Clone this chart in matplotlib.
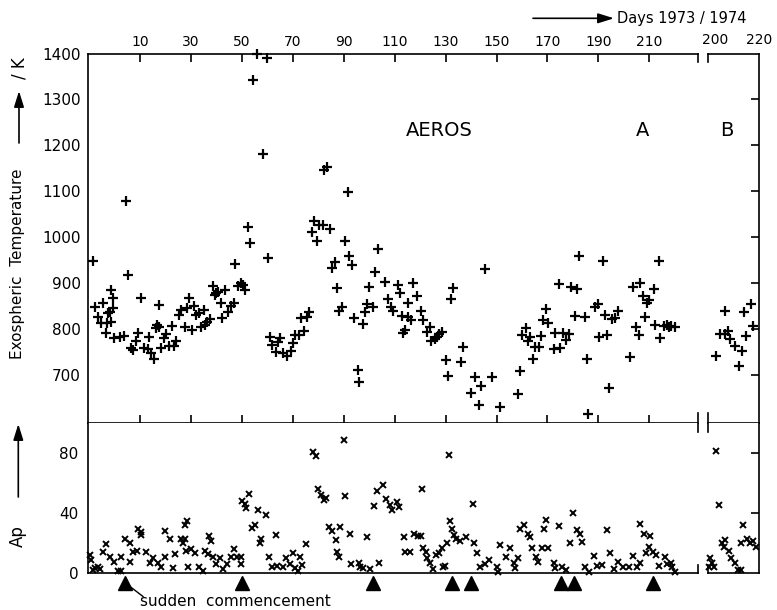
import matplotlib.pyplot as plt
from matplotlib.lines import Line2D
from matplotlib.transforms import ScaledTranslation

plt.rcParams['font.family'] = 'DejaVu Sans'

# exospheric temperature, AEROS A (day, K)
temp_a_day = [-8.5, 4.6, 5.5, -7.8, -4.5, -6.5, -5.2, -3.2, -2.8, -2.6, -1.9, -1.3, -0.6, -0.6, -1.5,
              0.0, 2.0, 3.7, 6.6, 7.3, 9.2, 8.6, 10.3, 11.6, 13.1, 13.5, 14.5, 15.5, 16.4, 16.8,
              17.5, 17.3, 18.4, 19.4, 20.4, 21.3, 22.6, 23.4, 24.3, 25.2, 26.2, 27.6, 28.5, 29.3,
              30.4, 31.2, 32.1, 33.1, 34.1, 35.1, 35.4, 36.4, 37.4, 38.7, 39.3, 40.0, 40.6, 41.7,
              42.3, 43.3, 44.6, 45.6, 46.9, 47.2, 48.5, 49.6, 50.5, 51.1, 52.4, 53.3,
              54.5, 55.9, 59.8, 58.4, 82.4, 83.4,
              91.5, 60.4, 78.5, 77.5, 79.4, 80.3, 82.0, 84.7, 90.6, 86.4, 85.3, 92.1, 93.4, 103.4,
              102.3, 87.3, 89.3, 88.3, 100.1, 106.3, 94.2, 97.4, 98.4, 99.1, 101.4, 95.5, 96.2,
              111.5, 112.2, 107.3, 108.6, 109.5, 112.8, 113.2, 61.1, 62.0, 63.3, 64.3, 65.0, 66.3,
              67.6, 69.3, 70.2, 70.9, 72.5, 73.3, 74.6, 75.5, 76.5,
              145.6, 117.4, 118.7, 115.4, 115.4, 116.5, 120.4, 121.3, 113.9, 122.6, 123.7, 124.3,
              125.7, 126.6, 127.5, 128.5, 133.1, 132.2, 137.0, 130.1, 136.1, 131.1, 141.6, 148.2,
              144.0, 140.1, 143.2, 151.5, 158.4, 159.3, 161.5, 160.2, 162.3, 163.2, 164.3, 165.2,
              166.5, 167.4, 168.2, 169.4, 170.4, 172.4, 173.1,
              182.5, 191.7, 213.7, 174.4, 179.4, 181.7, 203.5, 206.5, 211.7, 207.4, 210.0, 209.1,
              180.7, 184.6, 188.5, 189.7, 192.7, 195.4, 196.6, 197.7, 176.3, 178.3, 177.3, 175.0,
              190.1, 193.4, 185.5, 194.3, 186.1, 204.8, 205.8, 208.4, 212.1, 202.5, 214.3, 215.6,
              217.0, 217.9, 218.6, 220.0]
temp_a_val = [948, 1079, 918, 849, 857, 827, 814, 791, 814, 834, 838, 885, 867, 845, 816,
              780, 783, 785, 758, 754, 792, 774, 867, 758, 756, 783, 747, 735, 802, 809,
              852, 805, 758, 780, 789, 762, 807, 762, 774, 831, 842, 805, 845, 867,
              797, 850, 831, 834, 805, 842, 809, 816, 821, 894, 874, 879, 881, 857,
              823, 884, 836, 850, 856, 941, 894, 900, 896, 885, 1022, 987,
              1342, 1398, 1390, 1181, 1146, 1153,
              1099, 954, 1036, 1012, 991, 1027, 1027, 1017, 992, 947, 932, 958, 940, 974,
              925, 889, 849, 839, 892, 903, 825, 811, 836, 855, 847, 711, 685,
              896, 878, 865, 847, 839, 829, 791, 783, 765, 749, 772, 781, 747,
              742, 753, 769, 787, 787, 823, 796, 827, 837,
              931, 901, 872, 857, 826, 820, 839, 820, 798, 794, 805, 774,
              778, 783, 789, 793, 889, 865, 760, 733, 728, 698, 696, 695,
              675, 660, 635, 631, 659, 709, 802, 787, 773, 783, 735, 760,
              760, 785, 820, 843, 813, 756, 792,
              960, 948, 948, 897, 892, 888, 892, 901, 887, 872, 863, 857,
              828, 826, 847, 855, 831, 821, 823, 840, 791, 789, 776, 758,
              783, 786, 734, 672, 615, 804, 786, 827, 809, 740, 780, 807,
              809, 804, 807, 805]

# exospheric temperature, AEROS B
temp_b_day = [206.7, 203.0, 204.7, 206.7, 207.7, 208.6, 210.6, 211.9, 213.2, 214.2, 214.8, 216.7, 217.6]
temp_b_val = [839, 741, 789, 789, 796, 778, 762, 720, 752, 838, 785, 855, 807]

# Ap index, period A
ap_a_day = [90.2, 78.0, 79.3, 79.9, 80.9, 82.2, 83.2, 90.7, 105.5, 103.2, 101.9, 106.8, 108.1,
            109.0, 111.1, 111.6, 52.7, 50.1, 51.4, 51.8, 56.4, 59.4, 55.3, 54.0, 57.7, 57.0,
            63.3, 60.7, 62.0, 63.9, 66.2, 67.5, 68.8, 70.1, 70.8, 72.8, 72.1, 73.8, 75.1, 84.1,
            85.4, 88.7, 86.9, 92.4, 87.4, 88.1, 99.3, 93.0, 95.9, 96.3, 97.6, 100.3, 103.9,
            113.7, 114.2,
            -9.8, -9.1, -7.8, -6.5, -4.5, -3.2, -1.9, -0.3, 1.4, 2.7, 2.4, 4.0, 5.9, 5.9, 7.3,
            8.9, 9.2, 10.3, 10.5, 12.5, 13.8, 15.1, 17.1, 18.4, 19.7, 19.9, 21.7, 23.0, 23.9,
            26.2, 27.6, 26.9, 27.6, 28.5, 28.9, 28.2, 30.2, 31.5, 33.2, 34.8, 35.4, 37.1, 38.0,
            36.7, 38.7, 40.0, 41.3, 42.6, 44.3, 45.9, 46.8, 48.2, 49.6, 49.8, -8.5, -5.8,
            131.5, 120.7, 140.6, 131.8, 132.5, 133.4, 134.2, 135.5, 138.1, 117.7, 119.0, 120.3,
            116.1, 121.1, 122.4, 122.9, 123.7, 125.0, 126.3, 127.6, 128.5, 130.5, 128.9, 129.8,
            141.2, 142.5, 143.6, 145.6, 147.2, 150.2, 151.5, 153.8, 155.4, 157.0, 158.3, 159.3,
            160.9, 162.2, 163.0, 163.9, 165.6, 166.1, 167.8, 170.4, 168.7, 169.5, 174.4, 172.4,
            173.1, 175.7, 177.4, 179.0, 179.9, 181.6, 182.9, 183.6, 184.9, 186.5, 188.4, 189.4,
            191.4, 193.4, 194.7, 196.0, 197.9, 199.7, 201.9, 203.6, 205.2, 206.5, 208.0, 210.1,
            209.7, 208.8, 206.5, 211.5, 212.7, 214.0, 216.3, 217.0, 218.5, 218.9, 220.2, 157.4,
            150.4]
ap_a_val = [88.6, 80.4, 78.2, 56.2, 51.8, 48.5, 50.2, 51.6, 58.4, 54.6, 44.7, 49.1, 45.2,
            42.3, 47.3, 43.9, 52.4, 47.8, 46.3, 43.6, 41.9, 39.0, 31.9, 29.8, 23.1, 19.8,
            25.3, 11.0, 4.4, 5.1, 4.4, 9.9, 6.2, 13.2, 3.3, 11.0, 1.6, 5.5, 19.4, 30.9,
            28.3, 30.9, 22.1, 26.1, 14.4, 11.0, 23.9, 6.2, 6.6, 4.4, 3.3, 2.6, 6.6,
            24.2, 13.9,
            12.1, 8.8, 3.3, 4.4, 13.9, 19.2, 10.6, 7.7, 1.7, 1.7, 10.9, 23.1, 19.8, 7.7, 14.3,
            15.0, 29.3, 25.3, 27.5, 13.9, 7.1, 10.0, 7.1, 4.4, 11.0, 28.0, 22.7, 3.3, 12.5,
            23.1, 23.1, 19.8, 32.2, 34.8, 4.4, 14.8, 16.0, 13.7, 4.4, 1.7, 14.8, 24.7, 21.6,
            12.8, 11.0, 6.2, 10.0, 2.6, 6.2, 10.6, 15.9, 10.6, 6.2, 10.6, 2.0, 3.0,
            78.7, 56.2, 46.3, 34.8, 29.7, 25.3, 23.1, 21.6, 23.8, 26.4, 24.7, 24.7,
            14.3, 17.1, 14.3, 9.9, 6.6, 2.6, 12.1, 13.2, 16.5, 19.8, 4.4, 5.1,
            19.8, 13.2, 4.4, 5.9, 8.8, 3.9, 18.7, 10.6, 16.5, 6.6, 9.9, 29.7,
            32.3, 26.4, 23.8, 16.5, 10.6, 7.3, 16.5, 16.5, 29.7, 35.6, 31.2, 7.1,
            3.3, 4.4, 2.2, 20.2, 40.1, 28.6, 26.4, 20.5, 4.4, 1.1, 11.4, 4.8,
            5.5, 28.6, 13.2, 2.6, 7.7, 4.4, 4.4, 11.4, 4.4, 32.6, 26.4, 24.7,
            17.6, 13.7, 7.1, 14.3, 12.1, 4.8, 11.0, 6.2, 6.6, 3.9, 0.7, 3.3,
            1.1]

# Ap index, period B
ap_b_day = [203.1, 204.0, 200.5, 201.5, 202.1, 200.1, 205.4, 206.7, 206.3, 208.0, 209.0, 210.3,
            211.5, 212.8, 213.6, 212.8, 215.4, 216.5, 217.8, 218.8]
ap_b_val = [81.5, 45.6, 10.0, 6.6, 4.4, 4.4, 19.8, 22.1, 17.6, 14.8, 10.0, 6.6,
            2.2, 2.2, 32.1, 20.2, 23.1, 20.2, 21.6, 17.6]

# sudden commencements
sc_days = [4.0, 50.1, 101.6, 132.5, 140.0, 175.3, 180.5, 211.3]

W, H = 777, 610
fig = plt.figure(figsize=(W / 100, H / 100), dpi=100)


def box(x0, x1, y0, y1):
    # pixel box (origin top left) -> figure fraction
    return [x0 / W, 1 - y1 / H, (x1 - x0) / W, (y1 - y0) / H]


def vline(x, y0, y1):
    fig.add_artist(Line2D([x / W, x / W], [1 - y0 / H, 1 - y1 / H],
                          transform=fig.transFigure, color='k', lw=1.2))


ax_t = fig.add_axes(box(88, 697.7, 53.5, 422.7))
ax_tb = fig.add_axes(box(708, 759, 53.5, 422.7))
ax_p = fig.add_axes(box(88, 697.7, 422.7, 573.3))
ax_pb = fig.add_axes(box(708, 759, 422.7, 573.3))

pk = dict(ls='none', color='k', clip_on=False)
ax_t.plot(temp_a_day, temp_a_val, marker='+', ms=7, mew=1.6, **pk)
ax_tb.plot(temp_b_day, temp_b_val, marker='+', ms=7, mew=1.6, **pk)
ax_p.plot(ap_a_day, ap_a_val, marker='x', ms=4.5, mew=1.4, **pk)
ax_pb.plot(ap_b_day, ap_b_val, marker='x', ms=4.5, mew=1.4, **pk)

for a in (ax_t, ax_p):
    a.set_xlim(-10.4, 229)
for a in (ax_tb, ax_pb):
    a.set_xlim(199.8, 220)
for a in (ax_t, ax_tb):
    a.set_ylim(596, 1400)
for a in (ax_p, ax_pb):
    a.set_ylim(0, 100)

for a in (ax_t, ax_tb, ax_p, ax_pb):
    for s in a.spines.values():
        s.set_linewidth(1.2)
ax_t.spines['right'].set_visible(False)
ax_p.spines['right'].set_visible(False)
ax_p.spines['top'].set_visible(False)
ax_tb.spines['left'].set_visible(False)
ax_pb.spines['left'].set_visible(False)
ax_pb.spines['top'].set_visible(False)

# temperature A
ax_t.set_xticks(range(10, 211, 20))
ax_t.tick_params(axis='x', direction='in', top=True, bottom=True, labeltop=True,
                 labelbottom=False, length=6, width=1.2, labelsize=10, pad=3.5)
ax_t.set_yticks(range(700, 1401, 100))
ax_t.tick_params(axis='y', length=0, labelsize=11, pad=5)

# temperature B
ax_tb.set_xticks([200, 220])
ax_tb.tick_params(axis='x', top=True, bottom=False, labeltop=True, labelbottom=False,
                  length=0, labelsize=10, pad=5)
for t in ax_tb.xaxis.get_ticklabels():
    if t.get_text() == '200':
        t.set_transform(t.get_transform() + ScaledTranslation(7 / 100, 0, fig.dpi_scale_trans))
ax_tb.set_yticks(range(700, 1301, 100))
ax_tb.tick_params(axis='y', direction='in', left=False, right=True, labelleft=False,
                  length=6, width=1.2)

# Ap A
ax_p.set_xticks([])
ax_p.set_yticks([0, 40, 80])
ax_p.tick_params(axis='y', length=0, labelsize=11, pad=7)

# Ap B
ax_pb.set_xticks([])
ax_pb.set_yticks([40, 80])
ax_pb.tick_params(axis='y', direction='in', left=False, right=True, labelleft=False,
                  length=6, width=1.2)

# break marks
for x in (697.7, 708):
    vline(x, 53.5, 62)
    vline(x, 413, 432)
    vline(x, 565, 573.3)

# sudden commencement triangles
ax_p.plot(sc_days, [-0.063] * len(sc_days), ls='none', marker='^', ms=10, color='k',
          transform=ax_p.get_xaxis_transform(), clip_on=False)
fig.add_artist(Line2D([130 / W, 143 / W], [1 - 586.5 / H, 1 - 596.5 / H],
                      transform=fig.transFigure, color='k', lw=1))
fig.text(140 / W, 1 - 601.5 / H, 'sudden  commencement', fontsize=11, ha='left', va='center')

# panel texts
fig.text(439 / W, 1 - 130 / H, 'AEROS', fontsize=14, ha='center', va='center')
fig.text(643 / W, 1 - 130 / H, 'A', fontsize=14, ha='center', va='center')
fig.text(727 / W, 1 - 130 / H, 'B', fontsize=14, ha='center', va='center')

# axis titles with arrows
arr = dict(arrowstyle='-|>,head_length=0.8,head_width=0.25', color='k', lw=1.2,
           mutation_scale=12, shrinkA=0, shrinkB=0)
fig.text(17.5 / W, 1 - 264 / H, 'Exospheric  Temperature', rotation=90, fontsize=11,
         ha='center', va='center')
fig.text(19.5 / W, 1 - 68 / H, '/ K', rotation=90, fontsize=12, ha='center', va='center')
ax_t.annotate('', xy=(19, H - 91), xytext=(19, H - 143), xycoords='figure pixels',
              textcoords='figure pixels', arrowprops=arr)

fig.text(18.3 / W, 1 - 536 / H, 'Ap', rotation=90, fontsize=12, ha='center', va='center')
ax_p.annotate('', xy=(18.3, H - 424), xytext=(18.3, H - 497), xycoords='figure pixels',
              textcoords='figure pixels', arrowprops=arr)

ax_t.annotate('', xy=(614, H - 18.3), xytext=(533, H - 18.3), xycoords='figure pixels',
              textcoords='figure pixels', arrowprops=arr)
fig.text(617 / W, 1 - 18.3 / H, 'Days 1973 / 1974', fontsize=10.5, ha='left', va='center')

fig.savefig('out.png', dpi=100)
